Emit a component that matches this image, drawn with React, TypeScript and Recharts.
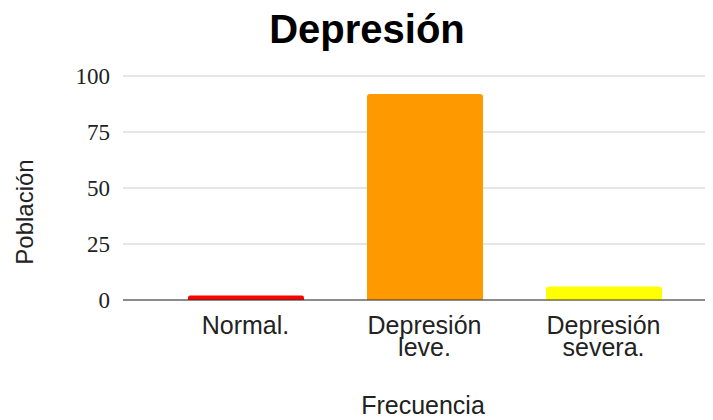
import { BarChart, Bar, XAxis, YAxis, CartesianGrid, Cell } from "recharts";

const categorias = ["Normal.", "Depresión leve.", "Depresión severa."];
const poblacion = [2, 92, 6];
const colores = ["#ff0000", "#ff9900", "#ffff00"];
const ticksY = [0, 25, 50, 75, 100];

const data = categorias.map((c, i) => ({ name: c, value: poblacion[i] }));

const SANS = "'Liberation Sans', Arial, sans-serif";
const SERIF = "'Liberation Serif', 'Times New Roman', serif";

function TickX(props: any) {
  const { x, y, payload } = props;
  const words = String(payload.value).split(" ");
  return (
    <text
      x={x}
      y={y}
      textAnchor="middle"
      fill="#222"
      fontFamily={SANS}
      fontSize={25}
    >
      {words.map((w, i) => (
        <tspan key={i} x={x} dy={i === 0 ? 32 : 22}>
          {w}
        </tspan>
      ))}
    </text>
  );
}

function LabelY(props: any) {
  const vb = props.viewBox;
  const cx = vb.x + 25;
  const cy = vb.y + vb.height / 2 + 24;
  return (
    <text
      x={cx}
      y={cy}
      transform={`rotate(-90 ${cx} ${cy})`}
      textAnchor="middle"
      fill="#222"
      fontFamily={SANS}
      fontSize={24}
    >
      Población
    </text>
  );
}

export default function App() {
  return (
    <div style={{ position: "relative", width: 705, height: 412 }}>
      <BarChart
        width={705}
        height={412}
        data={data}
        margin={{ top: 68, right: 0, left: 0, bottom: 0 }}
      >
        <CartesianGrid vertical={false} stroke="#cccccc" />
        <XAxis
          dataKey="name"
          height={120}
          padding={{ left: 33, right: 20 }}
          tickLine={false}
          tickSize={0}
          axisLine={{ stroke: "#333333" }}
          tick={<TickX />}
          interval={0}
          label={{
            value: "Frecuencia",
            position: "insideBottom",
            offset: 6,
            dx: 5,
            fill: "#222",
            fontFamily: SANS,
            fontSize: 25,
          }}
        />
        <YAxis
          width={115}
          domain={[0, 100]}
          ticks={ticksY}
          axisLine={false}
          tickLine={false}
          tickSize={0}
          tickMargin={13}
          tick={{ fill: "#222", fontFamily: SERIF, fontSize: 23 }}
          label={<LabelY />}
        />
        <Bar dataKey="value" barSize={116} radius={[3, 3, 0, 0]} isAnimationActive={false}>
          {data.map((d, i) => (
            <Cell key={d.name} fill={colores[i]} />
          ))}
        </Bar>
      </BarChart>
      <svg
        width={705}
        height={60}
        style={{ position: "absolute", left: 0, top: 0, pointerEvents: "none" }}
      >
        <text
          x={359}
          y={35}
          textAnchor="middle"
          fill="#000"
          fontFamily={SANS}
          fontWeight="bold"
          fontSize={40}
        >
          Depresión
        </text>
      </svg>
    </div>
  );
}
